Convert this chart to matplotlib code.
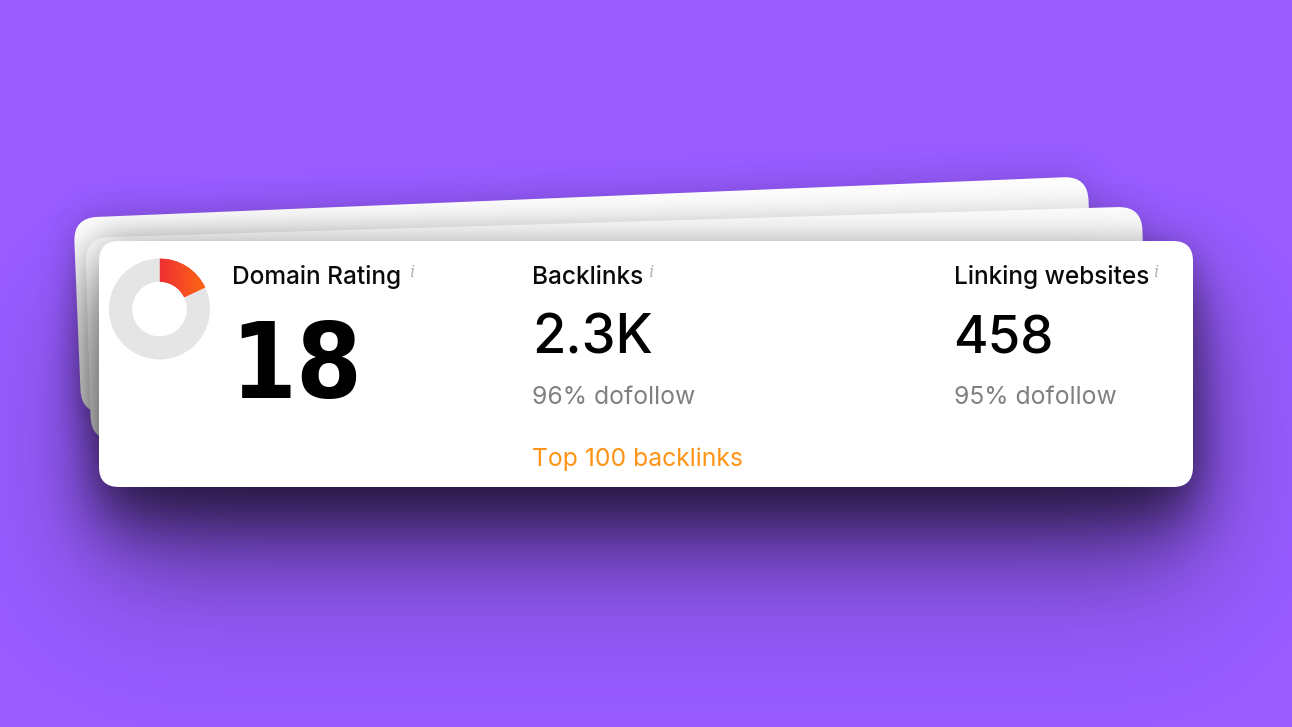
import numpy as np
import matplotlib
matplotlib.use("Agg")
import matplotlib.pyplot as plt
from matplotlib.patches import FancyBboxPatch
from matplotlib.transforms import Affine2D
from matplotlib.colors import LinearSegmentedColormap

W, H = 1292, 727

# chart content
dr_value = 18
dr_rest = 100 - dr_value
titles = ["Domain Rating", "Backlinks", "Linking websites"]
values = ["18", "2.3K", "458"]
subs = ["96% dofollow", "95% dofollow"]
link_text = "Top 100 backlinks"

PURPLE = "#985cff"


def blur(mask, sigma):
    # gaussian blur through fft, padded so the edges do not wrap
    pad = int(sigma * 4)
    m = np.pad(mask, pad, mode="constant")
    fy = np.fft.fftfreq(m.shape[0])[:, None]
    fx = np.fft.rfftfreq(m.shape[1])[None, :]
    g = np.exp(-2 * (np.pi * sigma) ** 2 * (fx ** 2 + fy ** 2))
    out = np.fft.irfft2(np.fft.rfft2(m) * g, s=m.shape)
    return out[pad:-pad, pad:-pad]


def card(ax, x0, y0, x1, y1, r, angle, layers, z):
    cx, cy = (x0 + x1) / 2, (y0 + y1) / 2
    tr = Affine2D().rotate_deg_around(cx, cy, angle)
    patch = FancyBboxPatch((x0 + r, y0 + r), x1 - x0 - 2 * r, y1 - y0 - 2 * r,
                           boxstyle=f"round,pad={r},rounding_size={r}",
                           fc="white", ec="none", zorder=z + 1,
                           transform=tr + ax.transData)
    # shadow from the rounded card shape
    path = patch.get_path().transformed(patch.get_patch_transform() + tr)
    yy, xx = np.mgrid[0:H, 0:W]
    pts = np.column_stack([xx.ravel() + 0.5, yy.ravel() + 0.5])
    mask = path.contains_points(pts).reshape(H, W).astype(float)
    alpha = np.zeros((H, W))
    for dy, sigma, strength in layers:
        a = blur(np.roll(mask, dy, axis=0), sigma) * strength
        alpha = 1 - (1 - alpha) * (1 - a)
    img = np.zeros((H, W, 4))
    img[..., 3] = np.clip(alpha, 0, 1)
    ax.imshow(img, extent=(0, W, H, 0), aspect="auto", zorder=z, interpolation="bilinear")
    ax.add_patch(patch)


fig = plt.figure(figsize=(W / 100, H / 100), dpi=100, facecolor=PURPLE)
ax = fig.add_axes([0, 0, 1, 1])
ax.set_facecolor(PURPLE)

back_shadow = [(0, 16, 0.16), (16, 24, 0.04)]
front_shadow = [(0, 16, 0.2), (30, 25, 0.42), (60, 45, 0.4), (100, 70, 0.2)]
card(ax, 77, 197, 1092, 393, 24, -2.35, back_shadow, 1)
card(ax, 88, 222, 1145, 425, 24, -1.7, back_shadow, 3)
card(ax, 99, 241, 1193, 487, 20, 0, front_shadow, 5)

ax.set_xlim(0, W)
ax.set_ylim(H, 0)
ax.axis("off")

sans = ["Inter", "DejaVu Sans"]
tz = 10
title_x = [232, 532, 954]
# titles
for x, t in zip(title_x, titles):
    ax.text(x, 284, t, fontsize=17.6, family=sans, weight="medium", color="#0a0a0a",
            va="baseline", zorder=tz)
# small info marks
for x in [412, 651, 1156]:
    ax.text(x, 277, "i", fontsize=12, family="DejaVu Serif", style="italic", color="#b5b5b5",
            ha="center", va="baseline", zorder=tz)
# numbers
ax.text(230, 398, values[0], fontsize=76, family="DejaVu Sans", weight="bold", stretch="condensed",
        color="black", va="baseline", zorder=tz)
ax.text(532, 353, values[1], fontsize=39, family=sans, weight="medium", color="black", va="baseline", zorder=tz)
ax.text(953, 353, values[2], fontsize=38, family=sans, weight="medium", color="black", va="baseline", zorder=tz)
ax.text(532, 404, subs[0], fontsize=17.8, family=sans, color="#808080", va="baseline", zorder=tz)
ax.text(954, 404, subs[1], fontsize=17.8, family=sans, color="#808080", va="baseline", zorder=tz)
ax.text(532, 466, link_text, fontsize=17.8, family=sans, color="#ff9315", va="baseline", zorder=tz)

# donut
dx, dy, dr = 159.5, 309, 50.5
ax_d = fig.add_axes([(dx - dr) / W, 1 - (dy + dr) / H, 2 * dr / W, 2 * dr / H])
wedges, _ = ax_d.pie([dr_value, dr_rest], colors=["#ef3333", "#e5e5e5"], startangle=90,
                     counterclock=False, radius=1, wedgeprops=dict(width=0.46, lw=0))
cmap = LinearSegmentedColormap.from_list("dr", ["#ee2f33", "#ff6a12"])
grad = np.linspace(0, 1, 128).reshape(1, -1)
im = ax_d.imshow(grad, cmap=cmap, extent=(0, 0.92, 0.2, 1), aspect="auto", zorder=3)
im.set_clip_path(wedges[0])
ax_d.set_xlim(-1, 1)
ax_d.set_ylim(-1, 1)
ax_d.set_aspect("equal")
ax_d.axis("off")

fig.savefig("out.png", dpi=100, facecolor=PURPLE)
